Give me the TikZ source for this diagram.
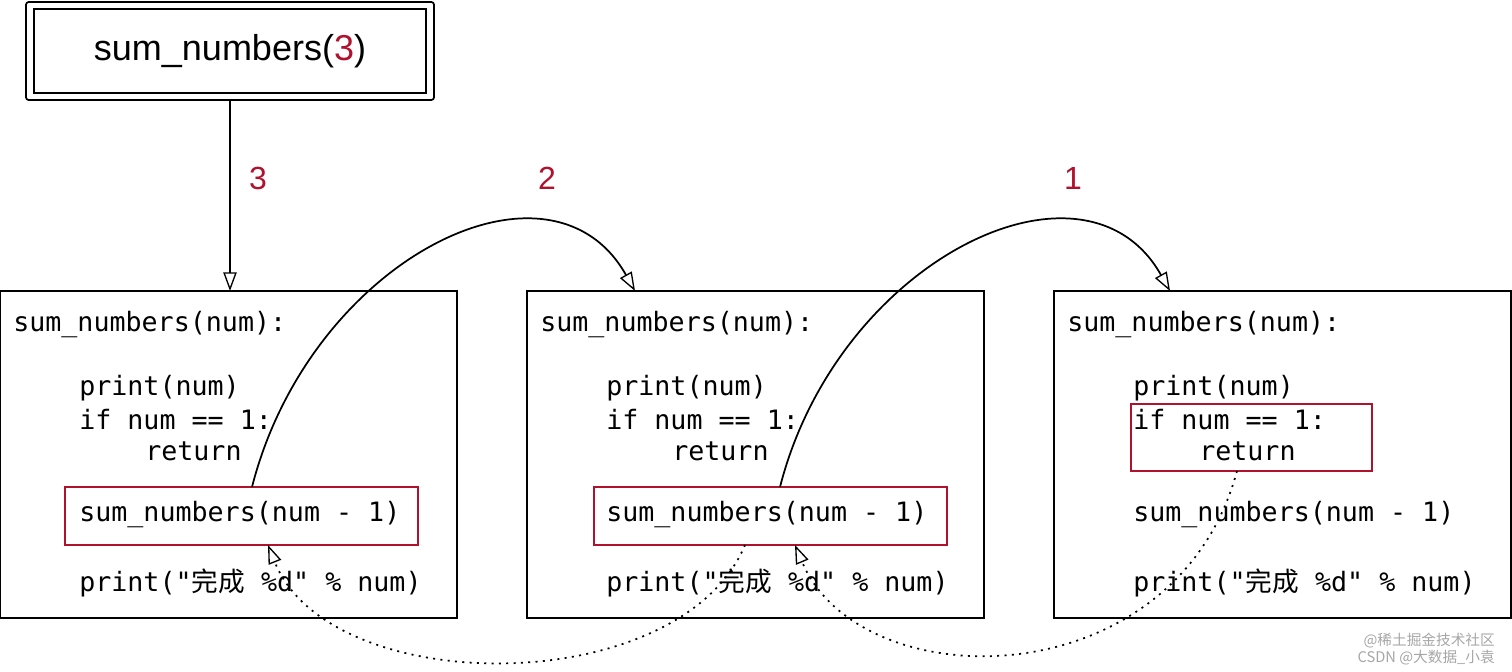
\documentclass[tikz,border=0pt]{standalone}
\usepackage{fontspec}
\setmainfont{Liberation Sans}
\newfontfamily\monof{DejaVu Sans Mono}
\newfontfamily\cjkf{Noto Sans CJK SC}
\usetikzlibrary{arrows.meta}
\definecolor{myred}{HTML}{B0122E}
\begin{document}
\begin{tikzpicture}[x=0.75pt,y=-0.75pt,
  code/.style={anchor=west,inner sep=0pt,font=\monof\fontsize{20}{24}\selectfont},
  num/.style={text=myred,font=\fontsize{24}{28}\selectfont},
  frame/.style={draw,line width=1.5pt},
  redbox/.style={draw=myred,line width=1.3pt},
  tip/.style={-{Triangle[open,length=14pt,width=10pt,line width=1pt]}},
  dots/.style={dash pattern=on 1.5pt off 4pt},
  wm/.style={text=gray!70,font=\cjkf\fontsize{11}{12}\selectfont,anchor=east,inner sep=0pt}]
\useasboundingbox (0,0) rectangle (1512,671);
% top box
\draw[line width=1.3pt,rounded corners=2pt] (26,2) rectangle (434,100);
\draw[line width=1.3pt] (34,9) rectangle (426,93);
\node (top) at (230,51) {\fontsize{27}{30}\selectfont sum\_numbers(\textcolor{myred}{3})};
\coordinate (topb) at (230,100);
% frames
\foreach \i/\x in {1/0,2/527,3/1054}{
  \draw[frame] (\x,291) rectangle ++(457,327);
  \node[code] at (\x+13,325) {sum\_numbers(num):};
  \node[code] at (\x+79,388) {print(num)};
  \node[code] at (\x+79,420) {if num == 1:};
  \node[code] at (\x+145,451) {return};
  \node[code] at (\x+79,515) {sum\_numbers(num - 1)};
  \node[code] at (\x+79,583) {print("{\cjkf 完成} \%d" \% num)};
}
\draw[redbox] (65,487) rectangle (418,545);
\draw[redbox] (594,487) rectangle (947,545);
\draw[redbox] (1131,404) rectangle (1372,471);
\coordinate (f1) at (230,291);
\coordinate (f2) at (635,291);
\coordinate (f3) at (1170,291);
\coordinate (r1t) at (252,487);
\coordinate (r2t) at (780,487);
\coordinate (r1b) at (268,545);
\coordinate (r2b) at (745,545);
\coordinate (r2bb) at (795,545);
\coordinate (r3b) at (1237,471);
% numbers
\node[num] (n3) at (258,178) {3};
\node[num] (n2) at (547,178) {2};
\node[num] (n1) at (1073,178) {1};
% arrows
\draw[tip,line width=1.3pt] (topb) -- (f1);
\draw[tip,line width=1.3pt] (r1t) .. controls (310,260) and (550,140) .. (f2);
\draw[tip,line width=1.3pt] (r2t) .. controls (838,260) and (1085,140) .. (f3);
\draw[tip,line width=1.3pt,dots] (r2b) .. controls (680,700) and (330,700) .. (r1b);
\draw[tip,line width=1.3pt,dots] (r3b) .. controls (1175,700) and (860,700) .. (r2bb);
% watermark
\node[wm] (w1) at (1495,641) {@稀土掘金技术社区};
\node[wm] (w2) at (1495,658) {CSDN @大数据\_小袁};
\end{tikzpicture}
\end{document}
